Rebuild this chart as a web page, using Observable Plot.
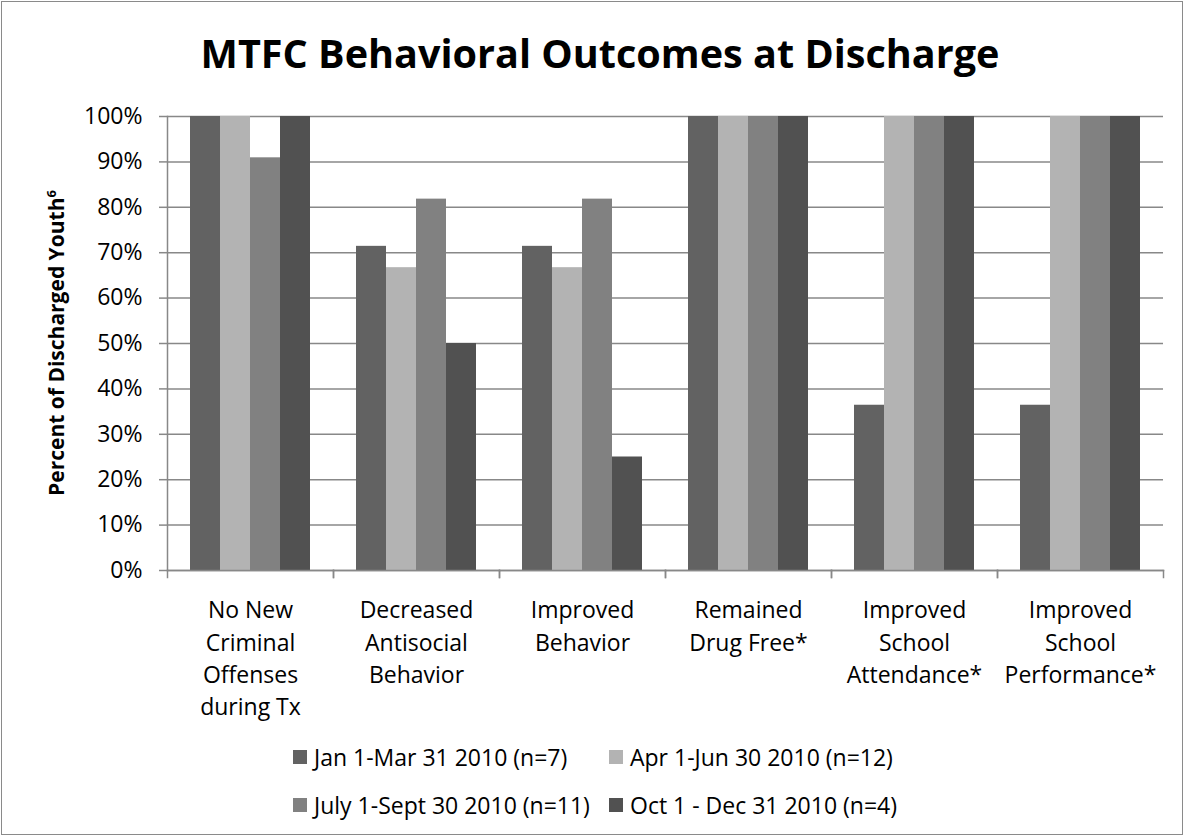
<!DOCTYPE html>
<html>
<head>
<meta charset="utf-8">
<script src="https://cdn.jsdelivr.net/npm/d3@7"></script>
<script src="https://cdn.jsdelivr.net/npm/@observablehq/plot@0.6"></script>
<style>
  body { margin: 0; background: #fff; font-family: "Open Sans", sans-serif; color: #000; }
  #wrap { position: relative; width: 1184px; height: 836px; overflow: hidden; background: #fff; }
  #border { position: absolute; left: 1px; top: 1px; width: 1180px; height: 832px; border: 1px solid #8a8a8a; pointer-events: none; }
  #title { position: absolute; left: 0; width: 1200px; top: 34px; text-align: center; font-weight: 700; font-size: 39.6px; line-height: 38px; white-space: nowrap; }
  #ylabel { position: absolute; left: 56px; top: 343px; transform: translate(-50%, -50%) rotate(-90deg); font-weight: 700; font-size: 21px; line-height: 21px; white-space: nowrap; }
  #ylabel sup { font-size: 13px; vertical-align: 8px; line-height: 0; }
  #chart { position: absolute; left: 0; top: 0; }
  #legend { position: absolute; left: 293px; top: 733px; font-size: 23px; }
  .row { display: flex; align-items: center; height: 48px; }
  .item { display: flex; align-items: center; white-space: nowrap; }
  .item.c1 { width: 316px; }
  .sw { width: 14px; height: 14px; margin-right: 7px; flex: none; }
</style>
</head>
<body>
<div id="wrap">
  <div id="chart"></div>
  <div id="title"></div>
  <div id="ylabel">Percent of Discharged Youth<sup>6</sup></div>
  <div id="legend"></div>
  <div id="border"></div>
</div>
<script>
const titleText = "MTFC Behavioral Outcomes at Discharge";
const categories = [
  "No New Criminal Offenses during Tx",
  "Decreased Antisocial Behavior",
  "Improved Behavior",
  "Remained Drug Free*",
  "Improved School Attendance*",
  "Improved School Performance*"
];
const categoryLabels = [
  "No New\nCriminal\nOffenses\nduring Tx",
  "Decreased\nAntisocial\nBehavior",
  "Improved\nBehavior",
  "Remained\nDrug Free*",
  "Improved\nSchool\nAttendance*",
  "Improved\nSchool\nPerformance*"
];
const seriesNames = [
  "Jan 1-Mar 31 2010 (n=7)",
  "Apr 1-Jun 30 2010 (n=12)",
  "July 1-Sept 30 2010 (n=11)",
  "Oct 1 - Dec 31 2010 (n=4)"
];
const seriesColors = ["#626262", "#b3b3b3", "#818181", "#515151"];
const janMar = [1.0, 0.714, 0.714, 1.0, 0.364, 0.364];
const aprJun = [1.0, 0.667, 0.667, 1.0, 1.0, 1.0];
const julSep = [0.909, 0.818, 0.818, 1.0, 1.0, 1.0];
const octDec = [1.0, 0.5, 0.25, 1.0, 1.0, 1.0];
const yTicks = [0, 0.1, 0.2, 0.3, 0.4, 0.5, 0.6, 0.7, 0.8, 0.9, 1.0];

const seriesValues = [janMar, aprJun, julSep, octDec];
const data = categories.flatMap((c, i) =>
  seriesNames.map((s, j) => ({category: c, series: s, value: seriesValues[j][i]}))
);
const labelOf = new Map(categories.map((c, i) => [c, categoryLabels[i]]));

const gridColor = "#888888";
const chart = Plot.plot({
  width: 1184,
  height: 740,
  marginTop: 116,
  marginLeft: 166,
  marginRight: 21,
  marginBottom: 170,
  style: {fontFamily: '"Open Sans", sans-serif', fontSize: "23px", color: "#000", background: "transparent", overflow: "visible"},
  fx: {domain: categories, padding: 0, label: null},
  x: {domain: seriesNames, paddingInner: 0, paddingOuter: 0.75, axis: null},
  y: {domain: [0, 1], label: null},
  color: {domain: seriesNames, range: seriesColors},
  marks: [
    Plot.gridY(yTicks, {stroke: gridColor, strokeOpacity: 1, strokeWidth: 1.5}),
    Plot.barY(data, {fx: "category", x: "series", y: "value", fill: "series"}),
    Plot.frame({anchor: "bottom", stroke: gridColor, strokeWidth: 1.5}),
    Plot.frame({anchor: "left", stroke: gridColor, strokeWidth: 1.5, insetTop: 454, insetBottom: -7}),
    Plot.frame({anchor: "right", stroke: gridColor, strokeWidth: 1.5, insetTop: 454, insetBottom: -7}),
    Plot.frame({anchor: "left", facet: "super", stroke: gridColor, strokeWidth: 1.5}),
    Plot.axisY(yTicks, {tickSize: 8, tickPadding: 17, tickFormat: d => Math.round(d * 100) + "%", stroke: gridColor, strokeWidth: 1.5, fontSize: 23, label: null}),
    Plot.axisFx({anchor: "bottom", tickSize: 0, tickPadding: 25, lineHeight: 1.4, fontSize: 23, tickFormat: c => labelOf.get(c), label: null})
  ]
});
document.getElementById("chart").appendChild(chart);
document.getElementById("title").textContent = titleText;

const legend = document.getElementById("legend");
[[0, 1], [2, 3]].forEach(pair => {
  const row = document.createElement("div");
  row.className = "row";
  pair.forEach((k, col) => {
    const item = document.createElement("div");
    item.className = "item" + (col === 0 ? " c1" : "");
    const sw = document.createElement("span");
    sw.className = "sw";
    sw.style.background = seriesColors[k];
    const tx = document.createElement("span");
    tx.textContent = seriesNames[k];
    item.appendChild(sw);
    item.appendChild(tx);
    row.appendChild(item);
  });
  legend.appendChild(row);
});
</script>
</body>
</html>
